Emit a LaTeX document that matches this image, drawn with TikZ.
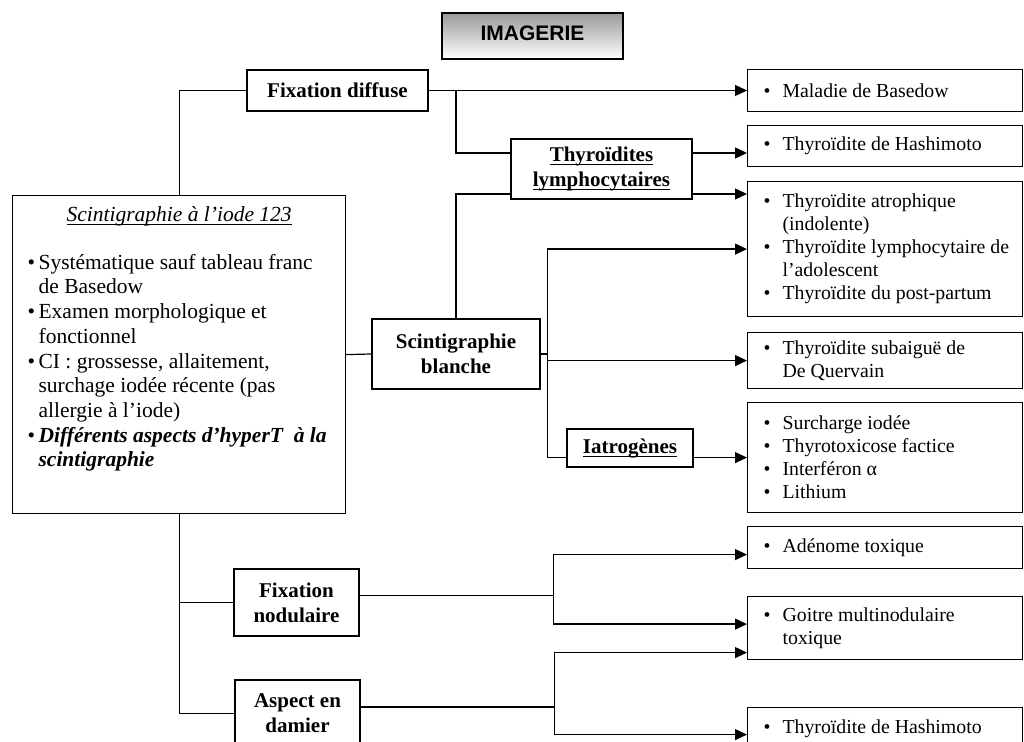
\documentclass[tikz,border=0pt]{standalone}
\usepackage{fontspec}
\setmainfont{Liberation Serif}
\newfontfamily\titlefont{Liberation Sans}
\usetikzlibrary{arrows.meta}
\newcommand{\mainitem}[1]{\par\noindent\hangindent=5.5pt\hangafter=1\makebox[5.5pt][l]{\textbullet}#1\par}
\newcommand{\listitem}[1]{\par\noindent\hangindent=9.5pt\hangafter=1\makebox[9.5pt][l]{\textbullet}#1\par}
\newcommand{\rightlist}[1]{\begin{minipage}{137.5pt}\raggedright\leftskip=8pt #1\end{minipage}}
\newcommand{\uline}[1]{\underline{\raisebox{0pt}[\height][0pt]{#1}}}

\begin{document}
\begin{tikzpicture}[x=0.5pt,y=-0.5pt,
    box/.style={draw,line width=0.6pt,inner sep=0pt},
    head/.style={box,align=center,font=\fontsize{10.5}{12.5}\selectfont\bfseries},
    lst/.style={box,anchor=north west,minimum width=137.5pt,font=\fontsize{9.9}{11.5}\selectfont},
    link/.style={line width=0.6pt},
    arr/.style={link,-{Triangle[length=6pt,width=5.5pt]}}]

    \useasboundingbox (0,0) rectangle (1024,742);
    \clip (0,0) rectangle (1024,742);

    \node[box,minimum width=90.5pt,minimum height=23pt,top color=black!40,bottom color=white,
      text depth=3pt,font=\titlefont\fontsize{10.5}{12}\selectfont\bfseries] (imagerie) at (532.5,36) {IMAGERIE};

    \node[box,anchor=north west] (main) at (12,195) {%
      \begin{minipage}[t][159pt][t]{166.5pt}
        \fontsize{10.75}{12.35}\selectfont
        \vspace*{5.5pt}
        {\centering\uline{\textit{Scintigraphie à l’iode 123}}\par}
        \vspace{11.5pt}
        \raggedright\leftskip=7.5pt
        \mainitem{Systématique sauf tableau franc\newline de Basedow}
        \mainitem{Examen morphologique et\newline fonctionnel}
        \mainitem{CI : grossesse, allaitement,\newline surchage iodée récente (pas\newline allergie à l’iode)}
        \mainitem{\textbf{\textit{Différents aspects d’hyperT\ \ à la\newline scintigraphie}}}
      \end{minipage}};

    \node[head,minimum width=90.5pt,minimum height=20.5pt] (fixdiff) at (337.5,90.5) {Fixation diffuse};
    \node[head,minimum width=90.5pt,minimum height=30pt] (thyro) at (601.5,169)
      {\uline{Thyroïdites}\\\uline{lymphocytaires}};
    \node[head,minimum width=84pt,minimum height=35pt] (blanche) at (456,354) {Scintigraphie\\blanche};
    \node[head,minimum width=63pt,minimum height=19pt] (iatro) at (630,448) {\uline{Iatrogènes}};
    \node[head,minimum width=62.5pt,minimum height=33.5pt] (nodul) at (296.5,602.5) {Fixation\\nodulaire};
    \node[head,minimum width=62.5pt,minimum height=33.5pt] (damier) at (297.5,713.5) {Aspect en\\damier};

    \node[lst,minimum height=21pt] (basedow) at (747,69) {\rightlist{\listitem{Maladie de Basedow}}};
    \node[lst,minimum height=20.5pt] (hashi) at (747,125) {\rightlist{\listitem{Thyroïdite de Hashimoto}}};
    \node[lst,minimum height=67.5pt] (atroph) at (747,181)
      {\rightlist{\listitem{Thyroïdite atrophique\newline (indolente)}\listitem{Thyroïdite lymphocytaire de\newline l’adolescent}\listitem{Thyroïdite du post-partum}}};
    \node[lst,minimum height=28pt] (quervain) at (747,332) {\rightlist{\listitem{Thyroïdite subaiguë de\newline De Quervain}}};
    \node[lst,minimum height=55pt] (iatrolist) at (747,402)
      {\rightlist{\listitem{Surcharge iodée}\listitem{Thyrotoxicose factice}\listitem{Interféron α}\listitem{Lithium}}};
    \node[lst,minimum height=21pt] (adenome) at (747,526) {\rightlist{\listitem{Adénome toxique}}};
    \node[lst,minimum height=31.5pt] (goitre) at (747,596) {\rightlist{\listitem{Goitre multinodulaire\newline toxique}}};
    \node[lst,minimum height=21pt] (hashi2) at (747,707) {\rightlist{\listitem{Thyroïdite de Hashimoto}}};

    % fixation diffuse
    \draw[link] (fixdiff.west) -| (main.north);
    \draw[arr] (fixdiff.east) -- (fixdiff.east -| basedow.west);
    \coordinate (j1) at (fixdiff.east -| blanche.north);
    \draw[link] (j1) |- ([yshift=8pt]thyro.west);
    \draw[link] (blanche.north) |- ([yshift=-12.5pt]thyro.west);
    \draw[arr] ([yshift=8pt]thyro.east) -- ([yshift=8pt]thyro.east -| hashi.west);
    \draw[arr] ([yshift=-12.5pt]thyro.east) -- ([yshift=-12.5pt]thyro.east -| atroph.west);

    % scintigraphie blanche
    \draw[link] (main.east) -- (blanche.west);
    \coordinate (j2) at ([xshift=3.5pt]blanche.east);
    \draw[link] (blanche.east) -- (j2);
    \draw[arr] (j2) |- (atroph.west);
    \draw[arr] (j2 |- quervain.west) -- (quervain.west);
    \draw[link] (j2) |- (iatro.west |- iatrolist.west);
    \draw[arr] (iatro.east |- iatrolist.west) -- (iatrolist.west);

    % fixation nodulaire, aspect en damier
    \draw[link] (main.south) |- (damier.west);
    \draw[link] (main.south |- nodul.west) -- (nodul.west);
    \coordinate (j3) at ([xshift=97pt,yshift=3.5pt]nodul.east);
    \draw[link] ([yshift=3.5pt]nodul.east) -- (j3);
    \draw[arr] (j3) |- ([yshift=-3.5pt]adenome.west);
    \draw[arr] (j3) |- ([yshift=2pt]goitre.west);
    \coordinate (j4) at ([xshift=97pt,yshift=3.25pt]damier.east);
    \draw[link] ([yshift=3.25pt]damier.east) -- (j4);
    \draw[arr] (j4) |- ([yshift=-12.25pt]goitre.west);
    \draw[arr] (j4) |- ([yshift=-3pt]hashi2.west);

\end{tikzpicture}
\end{document}
